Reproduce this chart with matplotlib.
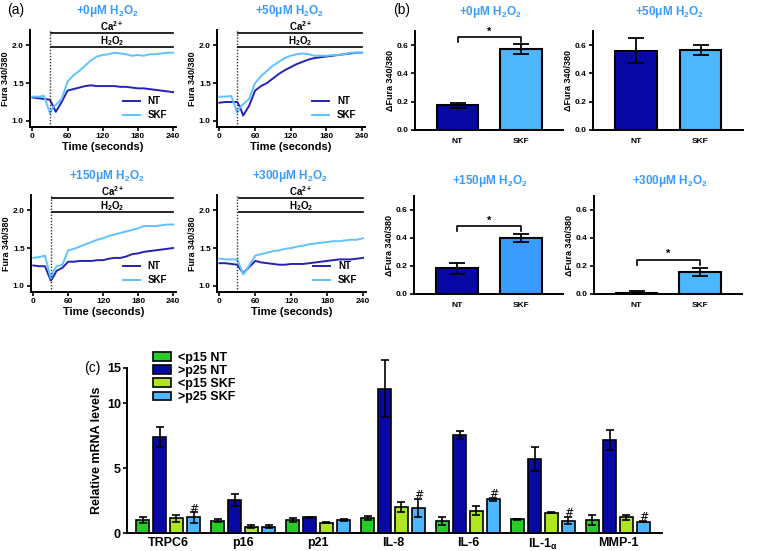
import numpy as np
import matplotlib.pyplot as plt

plt.rcParams['font.family'] = ['Liberation Sans', 'DejaVu Sans']
plt.rcParams['font.weight'] = 'bold'
plt.rcParams['mathtext.fontset'] = 'custom'
plt.rcParams['mathtext.rm'] = 'Liberation Sans:bold'
plt.rcParams['mathtext.it'] = 'Liberation Sans:bold'
plt.rcParams['mathtext.bf'] = 'Liberation Sans:bold'

# ---- data ----
doses = ['+0μM H$_2$O$_2$', '+50μM H$_2$O$_2$', '+150μM H$_2$O$_2$', '+300μM H$_2$O$_2$']

# (a) calcium traces, time in seconds
t = [0, 10, 20, 30, 35, 40, 50, 60, 70, 80, 90, 100, 110, 120, 130, 140, 150,
     160, 170, 180, 190, 200, 210, 220, 230, 240]
nt_0 = [1.31, 1.30, 1.29, 1.28, 1.20, 1.12, 1.25, 1.40, 1.42, 1.44, 1.46, 1.47, 1.46,
        1.46, 1.46, 1.46, 1.45, 1.45, 1.44, 1.43, 1.43, 1.42, 1.41, 1.40, 1.39, 1.38]
skf_0 = [1.32, 1.32, 1.33, 1.10, 1.18, 1.21, 1.29, 1.52, 1.60, 1.66, 1.73, 1.80, 1.85,
         1.87, 1.88, 1.90, 1.89, 1.88, 1.86, 1.87, 1.86, 1.88, 1.88, 1.89, 1.90, 1.90]
nt_50 = [1.24, 1.25, 1.25, 1.25, 1.18, 1.07, 1.20, 1.40, 1.46, 1.50, 1.56, 1.62, 1.67,
         1.71, 1.75, 1.78, 1.81, 1.83, 1.84, 1.85, 1.86, 1.87, 1.88, 1.89, 1.90, 1.90]
skf_50 = [1.32, 1.32, 1.33, 1.11, 1.18, 1.22, 1.29, 1.50, 1.59, 1.66, 1.73, 1.78, 1.83,
          1.86, 1.88, 1.89, 1.88, 1.86, 1.86, 1.86, 1.87, 1.87, 1.88, 1.90, 1.90, 1.90]
nt_150 = [1.27, 1.26, 1.26, 1.07, 1.13, 1.20, 1.24, 1.32, 1.32, 1.33, 1.33, 1.33, 1.34,
          1.34, 1.36, 1.37, 1.37, 1.39, 1.42, 1.43, 1.45, 1.46, 1.47, 1.48, 1.49, 1.50]
skf_150 = [1.37, 1.38, 1.40, 1.10, 1.20, 1.26, 1.28, 1.47, 1.49, 1.52, 1.55, 1.58, 1.61,
           1.63, 1.66, 1.68, 1.70, 1.72, 1.74, 1.76, 1.79, 1.79, 1.79, 1.80, 1.81, 1.81]
nt_300 = [1.30, 1.30, 1.29, 1.28, 1.22, 1.17, 1.25, 1.33, 1.31, 1.30, 1.29, 1.28, 1.28,
          1.29, 1.29, 1.29, 1.30, 1.31, 1.32, 1.33, 1.34, 1.35, 1.35, 1.35, 1.36, 1.37]
skf_300 = [1.36, 1.35, 1.35, 1.35, 1.25, 1.15, 1.27, 1.40, 1.42, 1.44, 1.46, 1.47, 1.49,
           1.50, 1.52, 1.53, 1.55, 1.56, 1.57, 1.58, 1.59, 1.59, 1.60, 1.61, 1.61, 1.63]
treat_start = 30

# (b) delta fura, mean and sem for NT / SKF
groups_b = ['NT', 'SKF']
delta_mean = [[0.175, 0.57], [0.56, 0.565], [0.185, 0.40], [0.01, 0.155]]
delta_sem = [[0.018, 0.035], [0.088, 0.035], [0.04, 0.03], [0.012, 0.028]]
sig_y = [0.655, None, 0.485, 0.245]

# (c) relative mRNA levels
genes = ['TRPC6', 'p16', 'p21', 'IL-8', 'IL-6', 'IL-1$_α$', 'MMP-1']
series_c = ['<p15 NT', '>p25 NT', '<p15 SKF', '>p25 SKF']
p15_nt = [1.0, 0.95, 1.0, 1.15, 0.95, 1.05, 1.0]
p15_nt_err = [0.25, 0.1, 0.18, 0.15, 0.3, 0.03, 0.35]
p25_nt = [7.4, 2.55, 1.2, 11.1, 7.55, 5.72, 7.15]
p25_nt_err = [0.75, 0.45, 0.06, 2.2, 0.33, 0.92, 0.78]
p15_skf = [1.13, 0.5, 0.8, 1.97, 1.72, 1.56, 1.2]
p15_skf_err = [0.25, 0.15, 0.05, 0.38, 0.35, 0.05, 0.22]
p25_skf = [1.2, 0.5, 1.0, 1.95, 2.59, 0.95, 0.87]
p25_skf_err = [0.4, 0.15, 0.08, 0.7, 0.1, 0.28, 0.05]
hash_mark = [True, False, False, True, True, True, True]
# the top tick of (c) sits low on the original axis (labelled 15)
c_ticks = [0, 5, 10, 12.7]
c_ticklabels = ['0', '5', '10', '15']

NT_LINE = '#2323b4'
SKF_LINE = '#5ec3ff'
NT_BAR = '#0808a4'
SKF_BAR = ['#4cb6ff', '#4cb6ff', '#3a9cff', '#4cb6ff']
TITLE_C = '#3a9bff'
C_COLORS = ['#27cc27', '#0808a4', '#b0e620', '#4cb6ff']

W, H = 765, 551
fig = plt.figure(figsize=(7.65, 5.51), dpi=100)


def box(l, t, r, b):
    return [l / W, 1 - b / H, (r - l) / W, (b - t) / H]


def style(ax, fs):
    for s in ['top', 'right']:
        ax.spines[s].set_visible(False)
    for s in ['left', 'bottom']:
        ax.spines[s].set_linewidth(1.4)
    ax.tick_params(width=1.2, length=3, labelsize=fs, pad=1.5)
    for lab in ax.get_xticklabels() + ax.get_yticklabels():
        lab.set_fontweight('bold')


# ---- panel (a) ----
traces = [(nt_0, skf_0), (nt_50, skf_50), (nt_150, skf_150), (nt_300, skf_300)]
a_boxes = [(30, 30, 176, 127), (217, 30, 365, 127), (31, 195, 176, 292), (217, 195, 366, 292)]
a_title_xy = [(107, 11), (290, 11), (107, 176), (290, 176)]
for i in range(4):
    ax = fig.add_axes(box(*a_boxes[i]))
    nt, skf = traces[i]
    ax.plot(t, nt, color=NT_LINE, lw=1.4, label='NT')
    ax.plot(t, skf, color=SKF_LINE, lw=1.4, label='SKF')
    ax.axvline(treat_start, color='#333333', lw=1.0, ls=(0, (1, 1.2)))
    ax.plot([32, 240], [2.16, 2.16], color='black', lw=1.2, clip_on=False)
    ax.plot([32, 240], [1.97, 1.97], color='black', lw=1.2, clip_on=False)
    ax.text(136, 2.25, 'Ca$^{2+}$', ha='center', va='center', fontsize=7)
    ax.text(136, 2.05, 'H$_2$O$_2$', ha='center', va='center', fontsize=7)
    ax.set_xlim(-4, 245)
    ax.set_ylim(0.92, 2.2)
    ax.set_xticks([0, 60, 120, 180, 240])
    ax.set_yticks([1.0, 1.5, 2.0])
    ax.set_yticklabels(['1.0', '1.5', '2.0'])
    ax.set_xlabel('Time (seconds)', fontsize=8, fontweight='bold', labelpad=1)
    ax.set_ylabel('Fura 340/380', fontsize=6.5, fontweight='bold', labelpad=1)
    style(ax, 6)
    ax.legend(loc='lower right', bbox_to_anchor=(1.0, -0.02), frameon=False,
              handlelength=1.8, labelspacing=0.4,
              prop={'weight': 'bold', 'size': 7})
    fig.text(a_title_xy[i][0] / W, 1 - a_title_xy[i][1] / H, doses[i], color=TITLE_C,
             fontsize=8.5, ha='center', va='center')

# ---- panel (b) ----
b_boxes = [(415, 31, 563, 130), (593, 31, 743, 130), (414, 196, 563, 294), (594, 196, 742, 294)]
b_title_xy = [(490, 12), (670, 12), (490, 181), (670, 181)]
xb = np.arange(len(groups_b))
for i in range(4):
    ax = fig.add_axes(box(*b_boxes[i]))
    ax.bar(xb, delta_mean[i], width=0.65, color=[NT_BAR, SKF_BAR[i]],
           edgecolor='black', linewidth=1.5, zorder=2)
    ax.errorbar(xb, delta_mean[i], yerr=delta_sem[i], fmt='none', ecolor='black',
                elinewidth=1.3, capsize=6, capthick=1.3, zorder=3)
    if sig_y[i] is not None:
        y = sig_y[i]
        ax.plot([0, 0, 1, 1], [y - 0.035, y, y, y - 0.035], color='black', lw=1.2,
                clip_on=False)
        ax.text(0.5, y + 0.005, '*', ha='center', va='bottom', fontsize=8)
    ax.set_xlim(-0.67, 1.66)
    ax.set_ylim(0, 0.7)
    ax.set_xticks(xb)
    ax.set_xticklabels(groups_b)
    ax.set_yticks([0.0, 0.2, 0.4, 0.6])
    ax.set_yticklabels(['0.0', '0.2', '0.4', '0.6'])
    ax.set_ylabel('ΔFura 340/380', fontsize=6.5, fontweight='bold', labelpad=1)
    style(ax, 6)
    ax.tick_params(axis='x', length=0, pad=6)
    fig.text(b_title_xy[i][0] / W, 1 - b_title_xy[i][1] / H, doses[i], color=TITLE_C,
             fontsize=8.5, ha='center', va='center')

# ---- panel (c) ----
axc = fig.add_axes(box(127, 368, 662, 533))
xc = np.arange(len(genes))
offs = [-0.34, -0.113, 0.113, 0.34]
vals = [p15_nt, p25_nt, p15_skf, p25_skf]
errs = [p15_nt_err, p25_nt_err, p15_skf_err, p25_skf_err]
for k in range(4):
    axc.bar(xc + offs[k], vals[k], width=0.175, color=C_COLORS[k], edgecolor='black',
            linewidth=1.2, label=series_c[k], zorder=2)
    eb = axc.errorbar(xc + offs[k], vals[k], yerr=errs[k], fmt='none', ecolor='black',
                      elinewidth=1.2, capsize=3, capthick=1.2, zorder=3)
    for art in eb.lines[1] + eb.lines[2]:
        art.set_clip_on(False)
for g in range(len(genes)):
    if hash_mark[g]:
        axc.text(xc[g] + offs[3], p25_skf[g] + p25_skf_err[g] - 0.1, '#', ha='center',
                 va='bottom', fontsize=8, fontweight='normal', family='DejaVu Serif')
axc.set_xlim(-0.547, 6.587)
axc.set_ylim(0, 12.7)
axc.set_yticks(c_ticks)
axc.set_yticklabels(c_ticklabels)
axc.set_xticks(xc)
axc.set_xticklabels(genes)
axc.set_ylabel('Relative mRNA levels', fontsize=9, fontweight='bold', labelpad=3)
style(axc, 9)
axc.tick_params(axis='x', length=0, pad=3)
axc.legend(loc='upper left', bbox_to_anchor=(0.04, 1.13), frameon=False,
           prop={'weight': 'bold', 'size': 9}, handlelength=1.4, handleheight=0.7,
           labelspacing=0.1, borderaxespad=0, handletextpad=0.6)

fig.text(7 / W, 1 - 10 / H, '(a)', fontsize=10, fontweight='normal', va='center')
fig.text(393 / W, 1 - 10 / H, '(b)', fontsize=10, fontweight='normal', va='center')
fig.text(84 / W, 1 - 368 / H, '(c)', fontsize=10, fontweight='normal', va='center')

fig.savefig('out.png', dpi=100)
